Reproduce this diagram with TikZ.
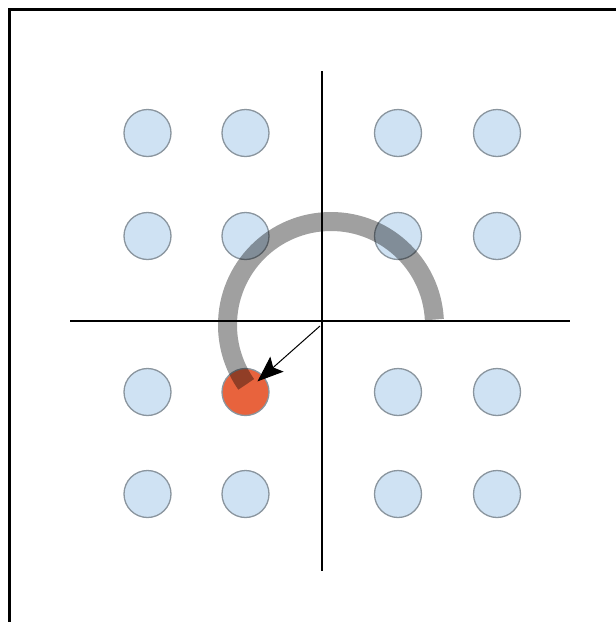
\documentclass[tikz,border=0pt]{standalone}
\usetikzlibrary{arrows.meta}
\definecolor{dotfill}{HTML}{CFE2F3}
\definecolor{dotline}{HTML}{8A959E}
\definecolor{redfill}{HTML}{E8633D}
\definecolor{arcgray}{HTML}{A0A0A0}
\tikzset{
  dot/.style={circle, draw=dotline, line width=1.3pt, fill=dotfill, minimum size=47pt, inner sep=0pt},
  reddot/.style={dot, fill=redfill},
  axis/.style={line width=1.3pt, black},
  frameline/.style={line width=3pt, black},
  turn/.style={line width=19pt, arcgray, line cap=butt},
  vec/.style={line width=1pt, black, -{Stealth[length=26pt, width=20pt, inset=5pt]}, shorten >=16pt}
}
\begin{document}
\begin{tikzpicture}[x=1pt, y=-1pt]
\useasboundingbox (0,0) rectangle (616,622);
\coordinate (f1) at (9.5,622);
\coordinate (f2) at (9.5,9.5);
\coordinate (f3) at (616,9.5);
\draw[frameline] (f1) -- (f2) -- (f3);
\coordinate (xl) at (70,321);
\coordinate (xr) at (570,321);
\coordinate (yt) at (322,71);
\coordinate (yb) at (322,571);
\draw[axis] (xl) -- (xr);
\draw[axis] (yt) -- (yb);
\foreach \i/\x in {1/147.5,2/245.5,3/398,4/497}{
  \foreach \j/\y in {1/133,2/236,3/392,4/494}{
    \ifnum\i=2 \ifnum\j=3 \else \node[dot] (c\i\j) at (\x,\y) {}; \fi
    \else \node[dot] (c\i\j) at (\x,\y) {}; \fi
  }
}
\node[reddot] (c23) at (245.5,392) {};
\coordinate (o) at (331,325);
\begin{scope}[blend mode=multiply]
\draw[turn] ([shift={(-3:103.5)}]o) arc[start angle=-3, end angle=-215, radius=103.5];
\end{scope}
\coordinate (vs) at (320,326);
\draw[vec] (vs) -- (c23.center);
\end{tikzpicture}
\end{document}
